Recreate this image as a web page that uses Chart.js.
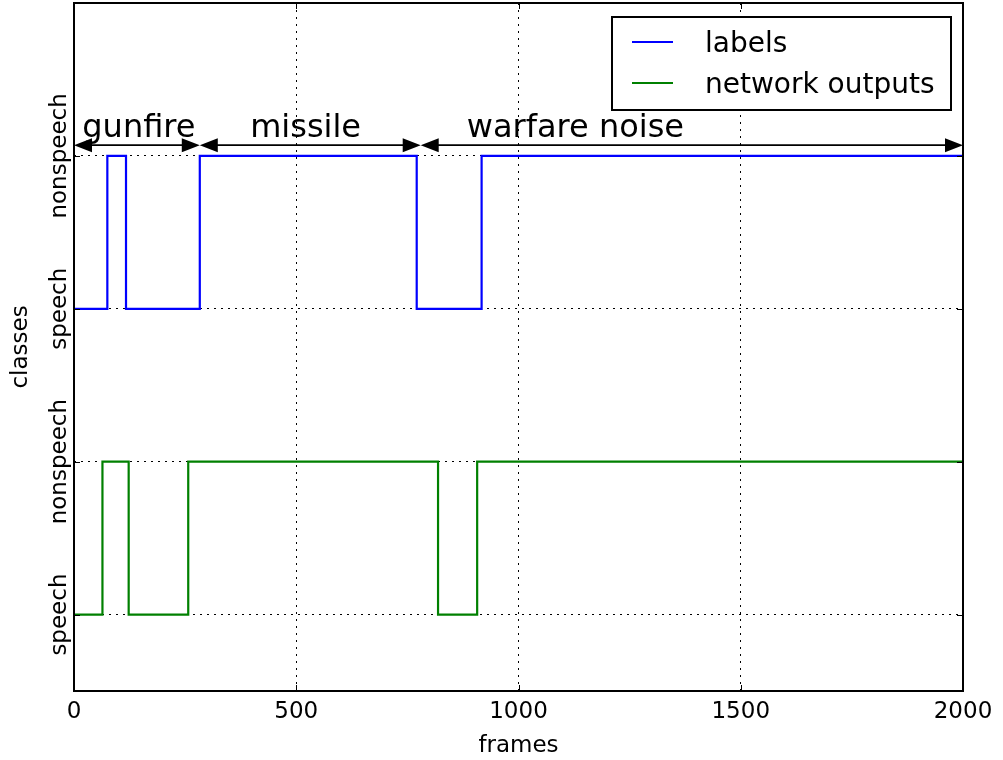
<!DOCTYPE html>
<html>
<head>
<meta charset="utf-8">
<script src="https://cdn.jsdelivr.net/npm/chart.js@4/dist/chart.umd.min.js"></script>
<style>
  html, body { margin: 0; padding: 0; background: #fff; }
  #wrap { width: 1003px; height: 760px; }
</style>
</head>
<body>
<div id="wrap"><canvas id="chart"></canvas></div>
<script>
// valeurs
const labelFrames = [0, 75, 117, 283, 771, 917, 2000];
const labelValues = [2, 3, 2, 3, 2, 3, 3];
const outputFrames = [0, 64, 123, 257, 819, 907, 2000];
const outputValues = [0, 1, 0, 1, 0, 1, 1];

const classTicks = [0, 1, 2, 3];
const classNames = ['speech', 'nonspeech', 'speech', 'nonspeech'];
const frameTicks = [0, 500, 1000, 1500, 2000];

const segmentNames = ['gunfire', 'missile', 'warfare noise'];
const segmentStarts = [0, 283, 780];
const segmentEnds = [283, 780, 2000];
const segmentTextX = [146, 521, 1128];
const segmentArrowLevel = 3.07;
const segmentTextLevel = 3.126;

const FONT = '"DejaVu Sans", "Liberation Sans", sans-serif';

function toPoints(xs, ys) {
  return xs.map((x, i) => ({ x: x, y: ys[i] }));
}

// dessins "façon matplotlib" : cadre, ticks internes, étiquettes y, flèches, légende
const decorPlugin = {
  id: 'decor',
  afterDatasetsDraw(chart) {
    const ctx = chart.ctx;
    const area = chart.chartArea;
    const xs = chart.scales.x;
    const ys = chart.scales.y;
    ctx.save();

    // ticks internes
    ctx.strokeStyle = '#000';
    ctx.lineWidth = 1;
    ctx.beginPath();
    frameTicks.forEach(v => {
      const px = Math.round(xs.getPixelForValue(v)) + 0.5;
      ctx.moveTo(px, area.bottom); ctx.lineTo(px, area.bottom - 6);
      ctx.moveTo(px, area.top); ctx.lineTo(px, area.top + 6);
    });
    classTicks.forEach(v => {
      const py = Math.round(ys.getPixelForValue(v)) + 0.5;
      ctx.moveTo(area.left, py); ctx.lineTo(area.left + 6, py);
      ctx.moveTo(area.right, py); ctx.lineTo(area.right - 6, py);
    });
    ctx.stroke();

    // cadre
    ctx.lineWidth = 2;
    ctx.strokeRect(area.left, area.top, area.right - area.left, area.bottom - area.top);

    // étiquettes de classes (tournées)
    ctx.fillStyle = '#000';
    ctx.font = '23px ' + FONT;
    ctx.textAlign = 'center';
    ctx.textBaseline = 'alphabetic';
    classTicks.forEach((v, i) => {
      ctx.save();
      ctx.translate(area.left - 8, ys.getPixelForValue(v));
      ctx.rotate(-Math.PI / 2);
      ctx.fillText(classNames[i], 0, 0);
      ctx.restore();
    });

    // flèches des segments
    const ay = ys.getPixelForValue(segmentArrowLevel);
    const headLen = 18, headW = 7;
    segmentNames.forEach((name, i) => {
      const x0 = xs.getPixelForValue(segmentStarts[i]);
      const x1 = xs.getPixelForValue(segmentEnds[i]);
      ctx.lineWidth = 1.8;
      ctx.beginPath();
      ctx.moveTo(x0 + headLen - 2, ay);
      ctx.lineTo(x1 - headLen + 2, ay);
      ctx.stroke();
      ctx.beginPath();
      ctx.moveTo(x0, ay); ctx.lineTo(x0 + headLen, ay - headW); ctx.lineTo(x0 + headLen, ay + headW);
      ctx.closePath();
      ctx.moveTo(x1, ay); ctx.lineTo(x1 - headLen, ay - headW); ctx.lineTo(x1 - headLen, ay + headW);
      ctx.closePath();
      ctx.fill();

      ctx.font = '32px ' + FONT;
      ctx.textAlign = 'center';
      ctx.textBaseline = 'alphabetic';
      ctx.fillText(name, xs.getPixelForValue(segmentTextX[i]), ys.getPixelForValue(segmentTextLevel));
    });

    // légende
    const bw = 339, bh = 93;
    const bx = area.right - 12 - bw;
    const by = area.top + 14;
    ctx.fillStyle = '#fff';
    ctx.fillRect(bx, by, bw, bh);
    ctx.strokeStyle = '#000';
    ctx.lineWidth = 2;
    ctx.strokeRect(bx, by, bw, bh);
    ctx.font = '28px ' + FONT;
    ctx.textAlign = 'left';
    ctx.textBaseline = 'middle';
    chart.data.datasets.forEach((ds, i) => {
      const ly = by + 25 + i * 41;
      ctx.strokeStyle = ds.borderColor;
      ctx.lineWidth = 2;
      ctx.beginPath();
      ctx.moveTo(bx + 20, ly); ctx.lineTo(bx + 61, ly);
      ctx.stroke();
      ctx.fillStyle = '#000';
      ctx.fillText(ds.label, bx + 93, ly + 3);
    });

    ctx.restore();
  }
};

const ctx = document.getElementById('chart').getContext('2d');
new Chart(ctx, {
  type: 'line',
  data: {
    datasets: [{
      label: 'labels',
      data: toPoints(labelFrames, labelValues),
      borderColor: '#0000ff',
      borderWidth: 2.2,
      stepped: 'before',
      pointRadius: 0,
      fill: false
    }, {
      label: 'network outputs',
      data: toPoints(outputFrames, outputValues),
      borderColor: '#008000',
      borderWidth: 2.2,
      stepped: 'before',
      pointRadius: 0,
      fill: false
    }]
  },
  options: {
    responsive: true,
    maintainAspectRatio: false,
    animation: false,
    layout: { padding: { top: 3, right: 40, left: 0, bottom: 0 } },
    plugins: {
      legend: { display: false },
      tooltip: { enabled: false }
    },
    scales: {
      x: {
        type: 'linear',
        min: 0,
        max: 2000,
        afterBuildTicks: (s) => { s.ticks = frameTicks.map(v => ({ value: v })); },
        afterFit: (s) => { s.height = 69; },
        ticks: {
          color: '#000',
          font: { family: FONT, size: 23 },
          padding: 7,
          maxRotation: 0,
          callback: (v) => String(v)
        },
        grid: { color: '#000', lineWidth: 1, drawTicks: false },
        border: { display: false, dash: [2, 5] },
        title: {
          display: true,
          text: 'frames',
          color: '#000',
          font: { family: FONT, size: 23 },
          padding: { top: 0, bottom: 0 }
        }
      },
      y: {
        type: 'linear',
        min: -0.5,
        max: 4,
        afterBuildTicks: (s) => { s.ticks = classTicks.map(v => ({ value: v })); },
        afterFit: (s) => { s.width = 74; },
        ticks: { display: false },
        grid: { color: '#000', lineWidth: 1, drawTicks: false },
        border: { display: false, dash: [2, 5] },
        title: {
          display: true,
          text: 'classes',
          color: '#000',
          font: { family: FONT, size: 23 },
          padding: { top: 7, bottom: 0 }
        }
      }
    }
  },
  plugins: [decorPlugin]
});
</script>
</body>
</html>
